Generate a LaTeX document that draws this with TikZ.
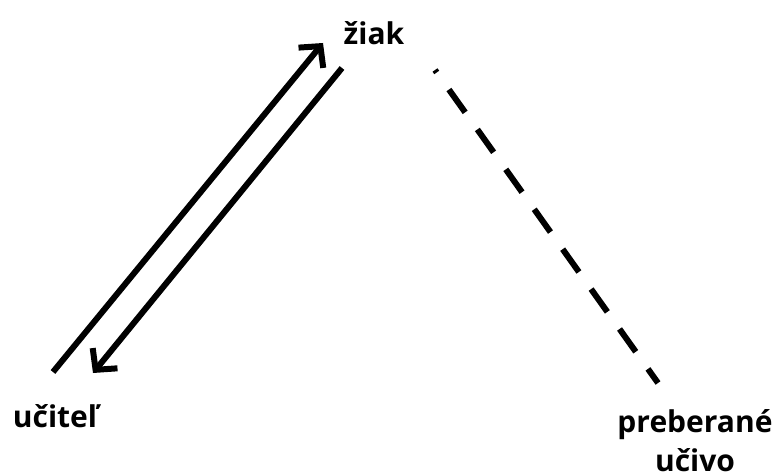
\documentclass[tikz,border=0pt]{standalone}
\usepackage{fontspec}
\setmainfont{Open Sans}
\usetikzlibrary{arrows.meta, calc}

\begin{document}
\begin{tikzpicture}[x=1pt, y=-1pt,
                popis/.style={
                    font=\fontsize{30}{39}\selectfont\bfseries,
                    inner sep=0pt,
                    align=center
                },
                sipka/.style={
                    line width=6pt,
                    -{Straight Barb[length=15pt, width=32pt]}
                },
                ciara/.style={
                    line width=6pt,
                    dash pattern=on 28pt off 21pt,
                    dash phase=25pt
                }
            ]
                \useasboundingbox (0,0) rectangle (781,473);
                \node[popis, anchor=base] (ziak) at (374,45) {žiak};
                \node[popis, anchor=base] (ucitel) at (55,427) {učiteľ};
                \node[popis, anchor=north] (ucivo) at (695,409) {preberané\\učivo};
                \draw[sipka] ($(ucitel.base)+(-2,-55)$) -- ($(ziak.base)+(-51,-2)$);
                \draw[sipka] ($(ziak.base)+(-32,23)$) -- ($(ucitel.base)+(38,-54)$);
                \draw[ciara] ($(ziak.base)+(61,25)$) -- ($(ucivo.north)+(-37,-26)$);
            \end{tikzpicture}
\end{document}
